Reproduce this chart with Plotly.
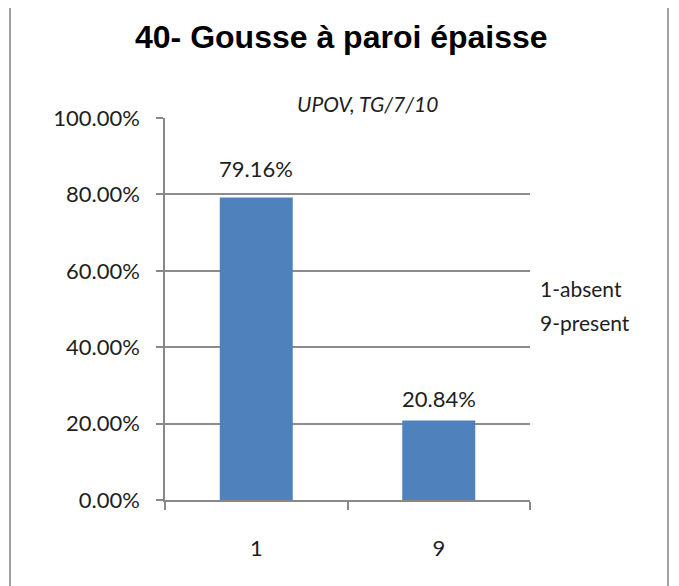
import plotly.graph_objects as go

categories = ["1", "9"]
values = [0.7916, 0.2084]
value_labels = ["79.16%", "20.84%"]
title_text = "40- Gousse à paroi épaisse"
subtitle_text = "UPOV, TG/7/10"
side_lines = ["1-absent", "9-present"]

W, H = 679, 586
OFF = 8  # default page body margin
L, R, T, B = 165 - OFF, 530 - OFF, 118 - OFF, 500 - OFF
label_shifts = [14, 6]

def px(x):
    return (x - OFF - L) / (R - L)

def py(y):
    return (B - (y - OFF)) / (B - T)

FONT = "Lato, Open Sans, sans-serif"
TXT = "#1e1e1e"

fig = go.Figure(go.Bar(
    x=categories, y=values, width=0.4,
    marker=dict(color="#4F81BD", line=dict(width=0)),
))

annotations = [
    dict(text="<b>" + title_text + "</b>", xref="paper", yref="paper",
         x=px(341), y=py(37), showarrow=False, xanchor="center", yanchor="middle",
         font=dict(family="Liberation Sans, Arial, sans-serif", size=32, color="black")),
    dict(text="<i>" + subtitle_text + "</i>", xref="paper", yref="paper",
         x=px(367), y=py(103), showarrow=False, xanchor="center", yanchor="middle",
         font=dict(family=FONT, size=21, color=TXT)),
]
for i, line in enumerate(side_lines):
    annotations.append(dict(text=line, xref="paper", yref="paper",
                            x=px(538), y=py(288 + 34 * i), showarrow=False,
                            xanchor="left", yanchor="middle", align="left",
                            font=dict(family=FONT, size=21, color=TXT)))
for i, (v, t) in enumerate(zip(values, value_labels)):
    annotations.append(dict(text=t, x=i, y=v, xref="x", yref="y", showarrow=False,
                            xanchor="center", yanchor="bottom", yshift=label_shifts[i],
                            font=dict(family=FONT, size=22, color=TXT)))

fig.update_layout(
    width=W, height=H,
    margin=dict(l=L, r=W - R, t=T, b=H - B),
    paper_bgcolor="white", plot_bgcolor="white",
    showlegend=False,
    xaxis=dict(
        type="category", categoryorder="array", categoryarray=categories,
        range=[-0.5, len(categories) - 0.5], fixedrange=True,
        showgrid=False, showline=True, linecolor="#888", linewidth=1.5,
        ticks="outside", tickson="boundaries", ticklen=8, tickcolor="#888", tickwidth=1.5,
        tickfont=dict(family=FONT, size=22, color=TXT),
        ticklabelstandoff=28,
    ),
    yaxis=dict(
        range=[0, 1], dtick=0.2, tickformat=".2%",
        showgrid=True, gridcolor="#8c8c8c", gridwidth=1.5,
        showline=True, linecolor="#888", linewidth=1.5,
        ticks="outside", ticklen=7, tickcolor="#888", tickwidth=1.5,
        tickfont=dict(family=FONT, size=22, color=TXT),
        ticklabelstandoff=12,
        zeroline=False,
    ),
    shapes=[dict(
        type="rect", xref="paper", yref="paper",
        x0=px(10), x1=px(668), y0=py(600), y1=py(4),
        line=dict(color="#a0a0a0", width=2), fillcolor="rgba(0,0,0,0)", layer="below",
    )],
    annotations=annotations,
)

fig.write_html("out.html")
